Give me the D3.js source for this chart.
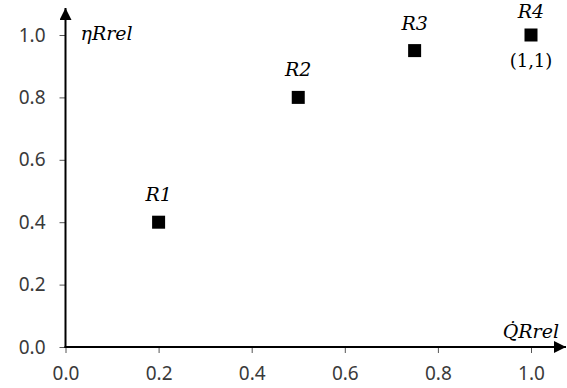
<!DOCTYPE html>
<html>
<head>
<meta charset="utf-8">
<script src="https://cdn.jsdelivr.net/npm/d3@7"></script>
<style>
  body { margin: 0; background: #fff; }
  .tick text { font-family: "Noto Sans", sans-serif; font-size: 19px; fill: #3a3a3a; }
  .lbl { font-family: "DejaVu Serif", serif; font-style: italic; font-size: 19px; fill: #000; }
</style>
</head>
<body>
<svg id="chart" width="567" height="388"></svg>
<script>
// data
const names = ['R1', 'R2', 'R3', 'R4'];
const qRel = [0.2, 0.5, 0.75, 1.0];
const etaRel = [0.4, 0.8, 0.95, 1.0];
const xTicks = [0, 0.2, 0.4, 0.6, 0.8, 1.0];
const yTicks = [0, 0.2, 0.4, 0.6, 0.8, 1.0];

const svg = d3.select('#chart');
const margin = { left: 65.5, right: 36, top: 35, bottom: 41 };
const width = 567, height = 388;

const x = d3.scaleLinear().domain([0, 1]).range([margin.left, width - margin.right]);
const y = d3.scaleLinear().domain([0, 1]).range([height - margin.bottom, margin.top]);

// ticks (thin, grey) drawn through d3 axes, domain paths removed
const xAxis = svg.append('g')
  .attr('transform', `translate(0,${y(0)})`)
  .call(d3.axisBottom(x).tickValues(xTicks).tickFormat(d3.format('.1f')).tickSize(6).tickPadding(14));
const yAxis = svg.append('g')
  .attr('transform', `translate(${x(0)},0)`)
  .call(d3.axisLeft(y).tickValues(yTicks).tickFormat(d3.format('.1f')).tickSize(6).tickPadding(14));
[xAxis, yAxis].forEach(g => {
  g.select('.domain').remove();
  g.selectAll('.tick line').attr('stroke', '#555').attr('stroke-width', 1);
  g.attr('font-family', null).attr('font-size', null);
});

// arrow marker
svg.append('defs').append('marker')
  .attr('id', 'arrow')
  .attr('viewBox', '0 0 10 10')
  .attr('refX', 10).attr('refY', 5)
  .attr('markerWidth', 6).attr('markerHeight', 6)
  .attr('markerUnits', 'strokeWidth')
  .attr('orient', 'auto')
  .append('path').attr('d', 'M0,0L10,5L0,10Z').attr('fill', '#000');

// main axis lines with arrowheads
svg.append('line')
  .attr('x1', x(0) - 1).attr('y1', y(0)).attr('x2', width - 1).attr('y2', y(0))
  .attr('stroke', '#000').attr('stroke-width', 2).attr('marker-end', 'url(#arrow)');
svg.append('line')
  .attr('x1', x(0)).attr('y1', y(0) + 1).attr('x2', x(0)).attr('y2', 8)
  .attr('stroke', '#000').attr('stroke-width', 2).attr('marker-end', 'url(#arrow)');

// axis titles
svg.append('text').attr('class', 'lbl')
  .attr('x', x(0) + 15).attr('y', 40)
  .text('ηRrel');
svg.append('text').attr('class', 'lbl')
  .attr('x', width - 8).attr('y', y(0) - 9)
  .attr('text-anchor', 'end')
  .text('Q\u0307Rrel');

// points
const pts = names.map((n, i) => ({ name: n, q: qRel[i], eta: etaRel[i] }));
const sz = 13;
svg.selectAll('rect.pt')
  .data(pts)
  .enter().append('rect')
    .attr('class', 'pt')
    .attr('x', d => x(d.q) - sz / 2)
    .attr('y', d => y(d.eta) - sz / 2)
    .attr('width', sz).attr('height', sz)
    .attr('fill', '#000');

svg.selectAll('text.name')
  .data(pts)
  .enter().append('text')
    .attr('class', 'lbl name')
    .attr('x', d => x(d.q))
    .attr('y', d => y(d.eta) - (d.name === 'R4' ? 17 : 21))
    .attr('text-anchor', 'middle')
    .text(d => d.name);

svg.append('text')
  .attr('x', x(1)).attr('y', y(1) + 32)
  .attr('text-anchor', 'middle')
  .attr('font-family', 'DejaVu Serif, serif')
  .attr('font-size', 18)
  .text('(1,1)');
</script>
</body>
</html>
